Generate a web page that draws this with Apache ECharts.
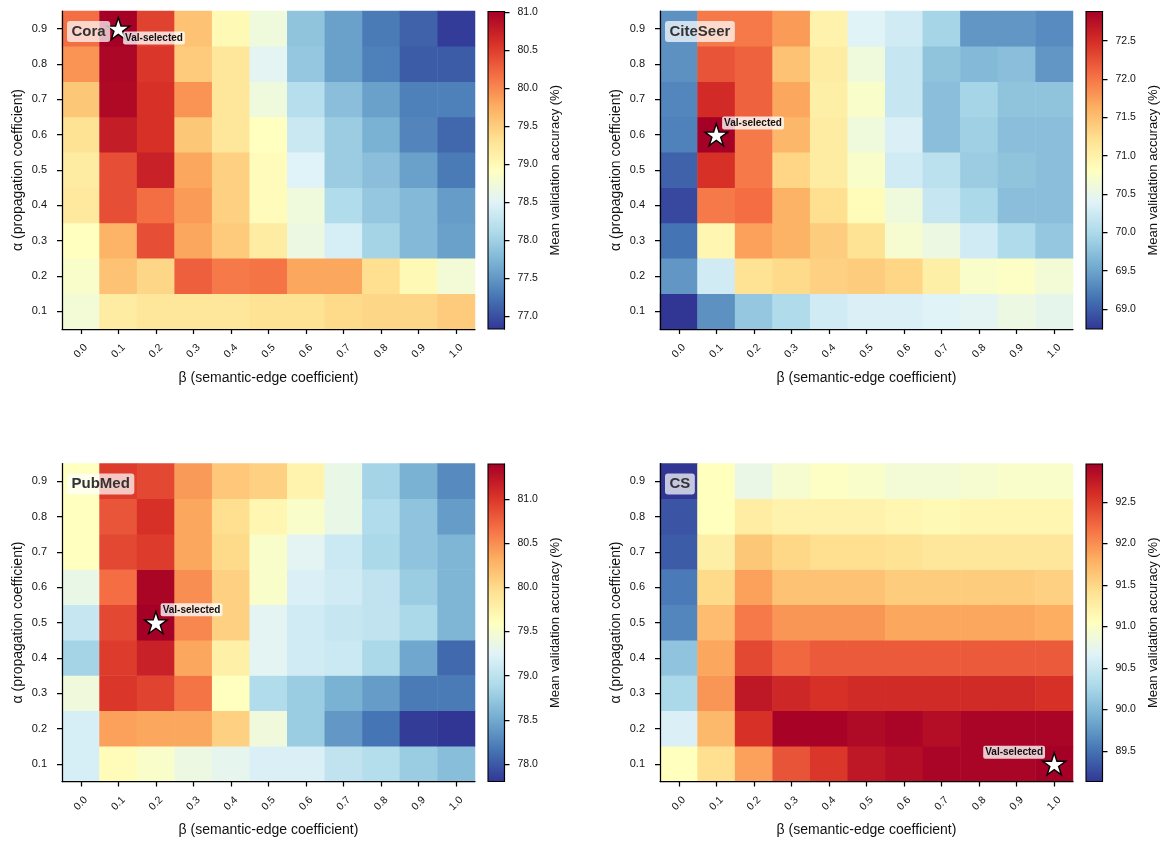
<!DOCTYPE html>
<html>
<head>
<meta charset="utf-8">
<script src="https://cdn.jsdelivr.net/npm/echarts@6/dist/echarts.min.js"></script>
<style>
  html, body { margin: 0; padding: 0; background: #fff; }
  #chart { width: 1167px; height: 845px; }
</style>
</head>
<body>
<div id="chart"></div>
<script>
// grid values
const betas = ['0.0', '0.1', '0.2', '0.3', '0.4', '0.5', '0.6', '0.7', '0.8', '0.9', '1.0'];
const alphas = ['0.1', '0.2', '0.3', '0.4', '0.5', '0.6', '0.7', '0.8', '0.9'];

// rows go alpha 0.1 -> 0.9, columns beta 0.0 -> 1.0
const coraAcc = [
  [78.75, 79.17, 79.25, 79.25, 79.25, 79.30, 79.30, 79.38, 79.42, 79.42, 79.51],
  [78.84, 79.59, 79.42, 80.26, 80.09, 80.13, 79.80, 79.80, 79.34, 79.00, 78.75],
  [78.92, 79.71, 80.38, 79.80, 79.51, 79.17, 78.67, 78.42, 78.04, 77.79, 77.58],
  [79.21, 80.38, 80.17, 79.88, 79.46, 78.96, 78.71, 78.13, 77.92, 77.79, 77.54],
  [79.17, 80.38, 80.72, 79.80, 79.46, 78.96, 78.50, 77.96, 77.83, 77.58, 77.29],
  [79.30, 80.76, 80.59, 79.55, 79.25, 78.92, 78.33, 77.96, 77.71, 77.37, 77.16],
  [79.55, 80.93, 80.59, 79.92, 79.25, 78.71, 78.17, 77.83, 77.58, 77.33, 77.33],
  [79.92, 80.95, 80.55, 79.51, 79.25, 78.54, 77.92, 77.58, 77.33, 77.08, 77.08],
  [80.17, 81.01, 80.47, 79.59, 79.00, 78.71, 77.88, 77.58, 77.29, 77.12, 76.87]
];
const citeseerAcc = [
  [68.74, 69.36, 69.82, 70.02, 70.27, 70.35, 70.35, 70.40, 70.44, 70.56, 70.48],
  [69.40, 70.27, 71.18, 71.27, 71.35, 71.39, 71.31, 71.02, 70.73, 70.77, 70.64],
  [69.15, 70.93, 71.72, 71.60, 71.39, 71.18, 70.69, 70.56, 70.27, 70.02, 69.82],
  [68.86, 71.97, 72.05, 71.60, 71.22, 70.85, 70.60, 70.19, 69.98, 69.73, 69.73],
  [69.03, 72.47, 71.97, 71.31, 71.06, 70.73, 70.27, 70.11, 69.86, 69.78, 69.73],
  [69.24, 72.88, 71.97, 71.56, 71.06, 70.60, 70.35, 69.73, 69.90, 69.73, 69.73],
  [69.28, 72.51, 72.13, 71.68, 71.02, 70.73, 70.19, 69.73, 69.94, 69.78, 69.78],
  [69.36, 72.22, 72.13, 71.47, 71.06, 70.60, 70.19, 69.78, 69.69, 69.73, 69.40],
  [69.36, 71.97, 71.97, 71.76, 70.98, 70.40, 70.27, 69.94, 69.40, 69.40, 69.32]
];
const pubmedAcc = [
  [79.17, 79.64, 79.53, 79.38, 79.31, 79.20, 79.20, 79.02, 78.95, 78.77, 78.66],
  [79.17, 80.39, 80.36, 80.36, 80.07, 79.42, 78.77, 78.38, 78.16, 77.84, 77.80],
  [79.42, 81.00, 80.93, 80.64, 79.60, 78.92, 78.77, 78.56, 78.41, 78.20, 78.20],
  [78.84, 80.97, 81.15, 80.36, 79.78, 79.28, 79.13, 79.10, 78.88, 78.48, 78.09],
  [79.06, 80.90, 81.40, 80.54, 80.07, 79.28, 79.13, 79.06, 79.02, 78.88, 78.59],
  [79.35, 80.68, 81.36, 80.50, 80.07, 79.53, 79.20, 79.13, 79.02, 78.77, 78.59],
  [79.60, 80.90, 80.97, 80.36, 80.00, 79.53, 79.28, 79.10, 78.88, 78.70, 78.59],
  [79.60, 80.82, 81.04, 80.36, 79.96, 79.71, 79.53, 79.35, 78.92, 78.70, 78.41],
  [79.60, 80.97, 80.90, 80.43, 80.14, 80.07, 79.74, 79.35, 78.84, 78.56, 78.30]
];
const csAcc = [
  [91.05, 91.43, 91.89, 92.35, 92.54, 92.77, 92.85, 92.92, 92.92, 92.92, 92.96],
  [90.62, 91.73, 92.58, 92.94, 92.94, 92.88, 92.92, 92.85, 92.92, 92.92, 92.92],
  [90.28, 91.96, 92.77, 92.65, 92.58, 92.62, 92.62, 92.62, 92.62, 92.62, 92.58],
  [90.09, 91.85, 92.42, 92.23, 92.31, 92.31, 92.31, 92.31, 92.31, 92.31, 92.31],
  [89.63, 91.70, 92.12, 91.96, 91.96, 91.96, 91.85, 91.85, 91.85, 91.85, 91.81],
  [89.55, 91.47, 91.89, 91.66, 91.66, 91.66, 91.58, 91.58, 91.58, 91.58, 91.54],
  [89.36, 91.24, 91.62, 91.50, 91.43, 91.43, 91.39, 91.35, 91.35, 91.35, 91.35],
  [89.32, 91.05, 91.27, 91.20, 91.20, 91.20, 91.16, 91.12, 91.16, 91.16, 91.16],
  [89.13, 91.05, 90.78, 90.93, 91.01, 90.97, 90.89, 90.89, 90.93, 90.97, 90.97]
];

// colour bar limits and ticks
const coraRange = [76.83, 81.01];
const citeseerRange = [68.74, 72.88];
const pubmedRange = [77.80, 81.40];
const csRange = [89.13, 92.96];
const coraTicks = [77.0, 77.5, 78.0, 78.5, 79.0, 79.5, 80.0, 80.5, 81.0];
const citeseerTicks = [69.0, 69.5, 70.0, 70.5, 71.0, 71.5, 72.0, 72.5];
const pubmedTicks = [78.0, 78.5, 79.0, 79.5, 80.0, 80.5, 81.0];
const csTicks = [89.5, 90.0, 90.5, 91.0, 91.5, 92.0, 92.5];

// val-selected (beta, alpha)
const coraBest = ['0.1', '0.9'];
const citeseerBest = ['0.1', '0.6'];
const pubmedBest = ['0.2', '0.5'];
const csBest = ['1.0', '0.1'];

const FONT = '"Liberation Sans", Arial, Helvetica, sans-serif';
const INK = '#111';
const RdYlBu_r = ['#313695', '#4575b4', '#74add1', '#abd9e9', '#e0f3f8', '#ffffbf',
                  '#fee090', '#fdae61', '#f46d43', '#d73027', '#a50026'];
const STAR = 'path://M50 0 L61.23 34.55 L97.55 34.55 L68.17 55.9 L79.39 90.45 L50 69.1 L20.61 90.45 L31.83 55.9 L2.45 34.55 L38.77 34.55 Z';

const panels = [
  { name: 'Cora', acc: coraAcc, range: coraRange, ticks: coraTicks, best: coraBest,
    left: 62, top: 11, cbLeft: 488, labelPos: [17, 21], labelAlign: 'left' },
  { name: 'CiteSeer', acc: citeseerAcc, range: citeseerRange, ticks: citeseerTicks, best: citeseerBest,
    left: 660, top: 11, cbLeft: 1086, labelPos: [18, 0], labelAlign: 'left' },
  { name: 'PubMed', acc: pubmedAcc, range: pubmedRange, ticks: pubmedTicks, best: pubmedBest,
    left: 62, top: 463.5, cbLeft: 488, labelPos: [17, -1], labelAlign: 'left' },
  { name: 'CS', acc: csAcc, range: csRange, ticks: csTicks, best: csBest,
    left: 660, top: 463.5, cbLeft: 1086, labelPos: [3, 0], labelAlign: 'right' }
];

const W = 413, H = 318;
const chart = echarts.init(document.getElementById('chart'));
const option = {
  backgroundColor: '#fff',
  animation: false,
  textStyle: { fontFamily: FONT },
  title: [], grid: [], xAxis: [], yAxis: [], visualMap: [], series: []
};

const stops = RdYlBu_r.map((c, i) => ({ offset: i / 10, color: c }));

panels.forEach((p, k) => {
  const hg = k * 2, cg = k * 2 + 1;

  option.title.push({
    text: p.name, left: p.left + 5, top: p.top + 10,
    padding: [3, 4.5], borderRadius: 3,
    backgroundColor: 'rgba(255,255,255,0.72)',
    textStyle: { fontSize: 15, fontWeight: 'bold', color: '#333', fontFamily: FONT }
  });

  option.grid.push({ left: p.left, top: p.top, width: W, height: H, outerBoundsMode: 'none' });
  option.grid.push({ left: p.cbLeft, top: p.top + 0.5, width: 16.5, height: H - 0.5, outerBoundsMode: 'none' });

  option.xAxis.push({
    type: 'category', gridIndex: hg, data: betas, position: 'bottom', z: 10,
    name: 'β (semantic-edge coefficient)', nameLocation: 'middle', nameGap: 42,
    nameTextStyle: { fontSize: 14, color: INK },
    axisLine: { show: true, onZero: false, lineStyle: { color: '#000', width: 1.25 } },
    axisTick: { show: true, alignWithLabel: true, length: 5, lineStyle: { color: '#000', width: 1.25 } },
    axisLabel: { show: true, rotate: 45, fontSize: 10.5, color: INK, margin: 22,
                 align: 'center', verticalAlign: 'middle', interval: 0 },
    splitLine: { show: false }
  });
  option.yAxis.push({
    type: 'category', gridIndex: hg, data: alphas, z: 10,
    name: 'α (propagation coefficient)', nameLocation: 'middle', nameGap: 37, nameRotate: 90,
    nameTextStyle: { fontSize: 14, color: INK },
    axisLine: { show: true, onZero: false, lineStyle: { color: '#000', width: 1.25 } },
    axisTick: { show: true, alignWithLabel: true, length: 5, lineStyle: { color: '#000', width: 1.25 } },
    axisLabel: { show: true, fontSize: 11, color: INK, margin: 15, interval: 0 },
    splitLine: { show: false }
  });

  // colour bar axes
  option.xAxis.push({ type: 'value', gridIndex: cg, min: 1, max: 2, show: false,
                      axisLine: { onZero: false } });
  option.yAxis.push({
    type: 'value', gridIndex: cg, position: 'right', min: p.range[0], max: p.range[1], z: 10,
    name: 'Mean validation accuracy (%)', nameLocation: 'middle', nameGap: 44, nameRotate: 90,
    nameTextStyle: { fontSize: 13, color: INK },
    axisLine: { show: true, onZero: false, lineStyle: { color: '#000', width: 1.1 } },
    axisTick: { show: true, inside: false, length: 5, customValues: p.ticks,
                lineStyle: { color: '#000', width: 1.25 } },
    axisLabel: { show: true, fontSize: 10.5, color: INK, margin: 13, customValues: p.ticks,
                 formatter: v => v.toFixed(1) },
    splitLine: { show: false }
  });

  const cells = [];
  p.acc.forEach((row, i) => row.forEach((v, j) => cells.push([j, i, v])));

  const heatIdx = option.series.length;
  option.series.push({
    type: 'heatmap', xAxisIndex: hg, yAxisIndex: hg, data: cells,
    emphasis: { disabled: true }, silent: true
  });
  option.visualMap.push({
    type: 'continuous', show: false, seriesIndex: heatIdx,
    min: p.range[0], max: p.range[1], inRange: { color: RdYlBu_r }
  });

  option.series.push({
    type: 'scatter', xAxisIndex: hg, yAxisIndex: hg, z: 5, silent: true,
    data: [p.best],
    symbol: STAR, symbolSize: [23, 22],
    itemStyle: { color: '#fff', borderColor: '#000', borderWidth: 1.4, opacity: 1 },
    label: {
      show: true, formatter: 'Val-selected', position: p.labelPos,
      align: p.labelAlign, verticalAlign: 'middle',
      fontSize: 10, fontWeight: 'bold', color: '#111', fontFamily: FONT,
      backgroundColor: 'rgba(255,255,255,0.78)', padding: [1.5, 2], borderRadius: 2
    }
  });

  option.series.push({
    type: 'custom', xAxisIndex: cg, yAxisIndex: cg, silent: true,
    data: [[1.5, p.range[0]]],
    renderItem: (params, api) => {
      const cs = params.coordSys;
      return {
        type: 'rect',
        shape: { x: cs.x, y: cs.y, width: cs.width, height: cs.height },
        style: {
          fill: new echarts.graphic.LinearGradient(0, 1, 0, 0, stops),
          stroke: '#000', lineWidth: 1.1
        }
      };
    }
  });
});

chart.setOption(option);
</script>
</body>
</html>
